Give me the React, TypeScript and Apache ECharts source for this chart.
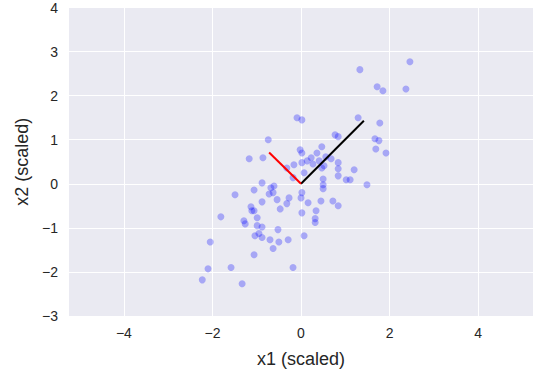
import React, { useEffect, useRef } from "react";
import * as echarts from "echarts";

const x1Values = [
  2.46, 1.33, 1.72, 1.85, 2.37, -0.09, 0.02, 1.29, 1.78, -0.74,
  0.77, 0.84, 1.67, 1.76, 1.69, 1.92, -0.02, 0.02, 0.47, 0.36,
  -1.17, -0.86, -0.16, 0.02, 0.14, 0.23, 0.56, 0.68, 0.84, 0.84,
  0.52, 0.47, 0.27, 0.41, 1.2, 0.84, 1.02, 1.11, 1.49, 0.5,
  0.5, 0.5, 0.07, -0.18, -0.32, -0.88, -0.61, -0.68, -1.49, -1.06,
  -0.72, -0.63, 0.02, 0.0, -0.27, -0.54, -0.88, -0.32, 0.16, 0.45,
  0.72, 0.84, -1.13, -1.11, -1.06, -0.47, 0.02, 0.34, -1.81, -1.29,
  -1.26, -0.99, -0.99, -0.88, 0.32, 0.32, -0.52, -0.95, -1.04, -0.88,
  -0.7, -0.5, -0.29, 0.07, -2.05, -0.63, -1.06, -2.1, -1.58, -0.18,
  -2.23, -1.33,
];
const x2Values = [
  2.77, 2.59, 2.2, 2.11, 2.15, 1.5, 1.45, 1.5, 1.38, 1.0,
  1.11, 1.07, 1.02, 0.98, 0.79, 0.7, 0.77, 0.7, 0.84, 0.7,
  0.57, 0.59, 0.43, 0.48, 0.52, 0.59, 0.61, 0.57, 0.48, 0.34,
  0.41, 0.36, 0.45, 0.52, 0.32, 0.18, 0.09, 0.09, -0.02, 0.11,
  -0.02, -0.11, 0.25, 0.14, 0.36, 0.02, -0.05, -0.09, -0.25, -0.14,
  -0.23, -0.2, -0.2, -0.32, -0.32, -0.36, -0.41, -0.45, -0.43, -0.39,
  -0.39, -0.5, -0.52, -0.61, -0.61, -0.57, -0.66, -0.61, -0.75, -0.84,
  -0.91, -0.77, -0.95, -0.98, -0.79, -0.88, -1.04, -1.13, -1.18, -1.22,
  -1.27, -1.32, -1.27, -1.18, -1.32, -1.47, -1.61, -1.93, -1.9, -1.9,
  -2.18, -2.27,
];

// principal component vectors (from origin)
const pc1 = [1.42, 1.43];
const pc2 = [-0.72, 0.71];

const xTicks = [-4, -2, 0, 2, 4];
const xRange = [-5.24, 5.24];
const yRange = [-3, 4];

const fmt = (v: number) => String(v).replace("-", "\u2212");

export default function App() {
  const ref = useRef<HTMLDivElement>(null);
  useEffect(() => {
    if (!ref.current) return;
    const chart = echarts.init(ref.current, undefined, { renderer: "svg" });
    const font = "'Liberation Sans', Arial, sans-serif";
    chart.setOption({
      animation: false,
      backgroundColor: "#ffffff",
      grid: {
        left: 69,
        right: 20,
        top: 7.5,
        bottom: 56.5,
        show: true,
        backgroundColor: "#EAEAF2",
        borderWidth: 0,
      },
      xAxis: {
        type: "value",
        min: xRange[0],
        max: xRange[1],
        name: "x1 (scaled)",
        nameLocation: "middle",
        nameGap: 34,
        nameTextStyle: { fontFamily: font, fontSize: 18, color: "#262626" },
        axisLine: { show: false },
        axisTick: { show: false, customValues: xTicks },
        axisLabel: {
          customValues: xTicks,
          formatter: fmt,
          fontFamily: font,
          fontSize: 14,
          color: "#262626",
          margin: 10,
        },
        splitLine: { show: true, lineStyle: { color: "#ffffff", width: 1 } },
      },
      yAxis: {
        type: "value",
        min: yRange[0],
        max: yRange[1],
        interval: 1,
        name: "x2 (scaled)",
        nameLocation: "middle",
        nameGap: 36,
        nameTextStyle: { fontFamily: font, fontSize: 18, color: "#262626" },
        axisLine: { show: false },
        axisTick: { show: false },
        axisLabel: {
          formatter: fmt,
          fontFamily: font,
          fontSize: 14,
          color: "#262626",
          margin: 11,
        },
        splitLine: { show: true, lineStyle: { color: "#ffffff", width: 1 } },
      },
      series: [
        {
          type: "scatter",
          data: x1Values.map((x, i) => [x, x2Values[i]]),
          symbolSize: 7,
          itemStyle: { color: "rgba(0,0,255,0.36)" },
          silent: true,
        },
        {
          type: "line",
          data: [
            [0, 0],
            [pc1[0], pc1[1]],
          ],
          symbol: "none",
          lineStyle: { color: "#000000", width: 2 },
          silent: true,
        },
        {
          type: "line",
          data: [
            [0, 0],
            [pc2[0], pc2[1]],
          ],
          symbol: "none",
          lineStyle: { color: "#ff0000", width: 2 },
          silent: true,
        },
      ],
    });
    return () => chart.dispose();
  }, []);
  return <div ref={ref} style={{ width: 553, height: 373, position: "absolute", left: 0, top: 0 }} />;
}
